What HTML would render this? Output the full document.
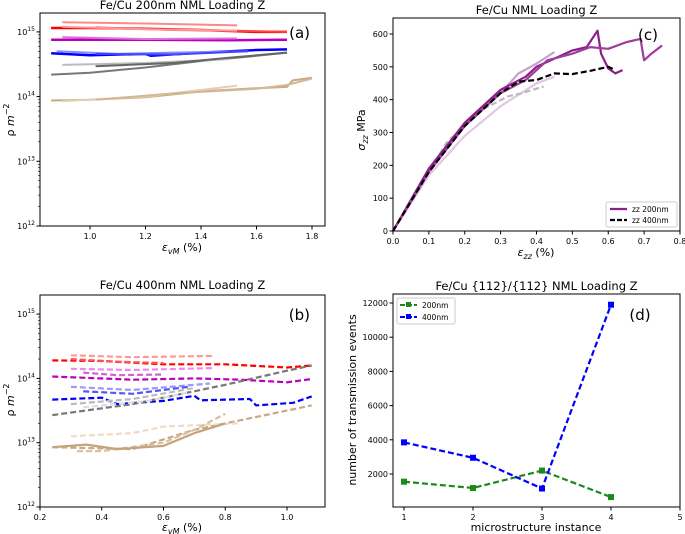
<!DOCTYPE html>
<html><head><meta charset="utf-8"><style>
body{margin:0;background:#fff;}
svg{display:block;font-family:"DejaVu Sans","Liberation Sans",sans-serif;}
</style></head><body>
<svg id="fig" width="685" height="534" viewBox="0 0 685 534" xmlns="http://www.w3.org/2000/svg"></svg>
<script>
// ---------- Panel (a) data: [x, log10 rho] ----------
const aSeries = [
 {c:'#f88',w:2,pts:[[0.9,15.15],[1.2,15.13],[1.53,15.1]]},
 {c:'#f00',w:2.5,pts:[[0.86,15.06],[1.0,15.06],[1.2,15.05],[1.4,15.03],[1.6,15.0],[1.71,15.0]]},
 {c:'#f44',w:2,pts:[[1.02,15.07],[1.3,15.03],[1.5,15.02],[1.71,15.0]]},
 {c:'#f99',w:2,pts:[[0.9,15.08],[1.2,15.04],[1.53,15.02]]},
 {c:'#b0b',w:2.5,pts:[[0.86,14.88],[1.2,14.88],[1.5,14.87],[1.71,14.88]]},
 {c:'#d7d',w:2,pts:[[0.9,14.92],[1.2,14.89],[1.53,14.9]]},
 {c:'#00f',w:2.5,pts:[[0.86,14.67],[1.0,14.64],[1.2,14.66],[1.22,14.63],[1.4,14.68],[1.6,14.72],[1.71,14.73]]},
 {c:'#88f',w:2,pts:[[0.88,14.7],[1.1,14.66],[1.3,14.68],[1.57,14.7]]},
 {c:'#44f',w:2,pts:[[1.02,14.66],[1.3,14.65],[1.57,14.7]]},
 {c:'#777',w:2,pts:[[0.86,14.34],[1.0,14.37],[1.2,14.45],[1.4,14.55],[1.6,14.63],[1.71,14.68]]},
 {c:'#bbb',w:2,pts:[[0.9,14.49],[1.2,14.52],[1.5,14.58]]},
 {c:'#666',w:2,pts:[[1.02,14.47],[1.3,14.52],[1.5,14.6],[1.71,14.68]]},
 {c:'#c9a882',w:2,pts:[[0.86,13.94],[1.0,13.95],[1.2,13.99],[1.4,14.08],[1.6,14.13],[1.71,14.15],[1.73,14.25],[1.8,14.29]]},
 {c:'#e3cfb5',w:2,pts:[[0.9,13.93],[1.2,14.0],[1.53,14.17]]},
 {c:'#d4b896',w:2,pts:[[1.02,13.95],[1.3,14.05],[1.6,14.12],[1.71,14.18],[1.8,14.28]]}
];
// ---------- Panel (b) data ----------
const bSeries = [
 {c:'#f99',d:1,pts:[[0.3,14.36],[0.5,14.33],[0.76,14.35]]},
 {c:'#f00',d:1,pts:[[0.24,14.28],[0.4,14.27],[0.6,14.22],[0.8,14.22],[1.0,14.17],[1.08,14.2]]},
 {c:'#f55',d:1,pts:[[0.3,14.3],[0.45,14.26],[0.6,14.24]]},
 {c:'#e8e',d:1,pts:[[0.3,14.15],[0.5,14.13],[0.76,14.16]]},
 {c:'#c6c',d:1,pts:[[0.34,14.09],[0.45,14.05],[0.6,14.06]]},
 {c:'#b0b',d:1,pts:[[0.24,14.03],[0.5,13.98],[0.7,14.0],[0.85,13.98],[1.0,13.94],[1.08,13.99]]},
 {c:'#99f',d:1,pts:[[0.3,13.87],[0.5,13.82],[0.75,13.92]]},
 {c:'#55f',d:1,pts:[[0.34,13.8],[0.5,13.76],[0.68,13.87]]},
 {c:'#00f',d:1,pts:[[0.24,13.67],[0.4,13.7],[0.45,13.6],[0.6,13.65],[0.7,13.73],[0.72,13.66],[0.88,13.68],[0.9,13.58],[1.02,13.62],[1.08,13.72]]},
 {c:'#777',d:1,pts:[[0.24,13.43],[0.5,13.6],[0.8,13.9],[1.0,14.12],[1.08,14.2]]},
 {c:'#bbb',d:1,pts:[[0.3,13.6],[0.5,13.68],[0.7,13.85]]},
 {c:'#ddd',d:1,pts:[[0.34,13.55],[0.55,13.65],[0.68,13.78]]},
 {c:'#c9a882',d:1,pts:[[0.24,12.93],[0.5,12.9],[0.7,13.2],[0.85,13.35],[1.08,13.58]]},
 {c:'#eedcc8',d:1,pts:[[0.3,13.1],[0.5,13.15],[0.6,13.25],[0.84,13.3]]},
 {c:'#d9c0a0',d:1,pts:[[0.32,12.87],[0.4,12.87],[0.6,13.0],[0.7,13.2],[0.8,13.45]]},
 {c:'#c4a27c',d:0,pts:[[0.24,12.93],[0.35,12.97],[0.45,12.9],[0.6,12.95],[0.7,13.15],[0.8,13.3]]}
];
// ---------- Panel (c) data: [strain %, stress MPa] ----------
const cSeries = [
 {c:'#e5c5e5',d:0,pts:[[0,0],[0.1,170],[0.2,290],[0.3,380],[0.4,450],[0.45,470]]},
 {c:'#c9a0c9',d:0,pts:[[0,0],[0.1,185],[0.2,320],[0.25,375],[0.3,420],[0.35,480],[0.4,510],[0.45,545]]},
 {c:'#bbb',d:1,pts:[[0,0],[0.15,270],[0.25,370],[0.32,410],[0.36,420],[0.42,440]]},
 {c:'#8b1e8b',d:0,pts:[[0,0],[0.1,190],[0.2,330],[0.3,430],[0.37,470],[0.4,500],[0.45,525],[0.5,550],[0.54,560],[0.57,610],[0.58,540],[0.6,495],[0.62,480],[0.64,490]]},
 {c:'#9c3f9c',d:0,pts:[[0,0],[0.1,180],[0.2,320],[0.3,420],[0.37,460],[0.43,520],[0.5,540],[0.55,560],[0.6,555],[0.65,575],[0.69,585],[0.7,520],[0.72,540],[0.75,565]]},
 {c:'#000',d:1,pts:[[0,0],[0.1,180],[0.2,320],[0.3,420],[0.35,455],[0.4,460],[0.45,480],[0.5,478],[0.55,488],[0.6,500],[0.62,490]]}
];
// ---------- Panel (d) data ----------
const dInstances = [1,2,3,4];
const d200 = [1550,1180,2200,650];
const d400 = [3850,2950,1150,11900];
const dTicksY = [2000,4000,6000,8000,10000,12000];
const dTicksX = [1,2,3,4,5];

const svg=document.getElementById('fig');
const NS='http://www.w3.org/2000/svg';
function el(tag,attrs,parent){const e=document.createElementNS(NS,tag);for(const k in attrs)e.setAttribute(k,attrs[k]);(parent||svg).appendChild(e);return e;}
function txt(s,x,y,size,anchor,parent,extra){const t=el('text',Object.assign({x:x,y:y,'font-size':size,'text-anchor':anchor||'middle',fill:'#000'},extra||{}),parent);t.innerHTML=s;return t;}

function axes(name,L,T,R,B,title,titleY){
  const g=el('g',{});
  
  
  const box=el('rect',{x:L,y:T,width:R-L,height:B-T,fill:'none',stroke:'#000','stroke-width':1},g);
  
  
  const tt=txt(title,(L+R)/2,titleY,11.5,'middle',g);
  
  
  return g;
}
function poly(g,pts,X,Y,c,w,dash,name){
  const p=el('polyline',{points:pts.map(q=>X(q[0]).toFixed(1)+','+Y(q[1]).toFixed(1)).join(' '),fill:'none',stroke:c,'stroke-width':w,'stroke-dasharray':dash?'6,3':'none','stroke-linejoin':'round'},g);
  
  
  return p;
}
function logAxis(g,L,B,Y,lo,hi){
  for(let d=lo;d<=hi;d++){
    const y=Y(d);
    el('line',{x1:L-3.5,x2:L,y1:y,y2:y,stroke:'#000'},g);
    const t=txt('10<tspan dy="-4" font-size="6">'+d+'</tspan>',L-5,y+3,8,'end',g);
    
    
    for(let m=2;m<10;m++){const lv=d+Math.log10(m);if(lv<=hi+0.3){const ym=Y(lv);el('line',{x1:L-2,x2:L,y1:ym,y2:ym,stroke:'#000','stroke-width':0.6},g);}}
  }
}
function xTicks(g,vals,X,B,fmt){vals.forEach(v=>{const x=X(v);el('line',{x1:x,x2:x,y1:B,y2:B+3.5,stroke:'#000'},g);const t=txt(fmt(v),x,B+13,8,'middle',g);});}

// ----- Panel a -----
(function(){
 const L=40,T=13,R=325,B=226;
 const X=v=>90+(v-1.0)*(312-90)/0.8, Y=v=>226-(v-12)*64.7;
 const g=axes('panel-a-chart',L,T,R,B,'Fe/Cu 200nm NML Loading Z',9);
 aSeries.forEach(s=>poly(g,s.pts,X,Y,s.c,s.w,false,'density-line-200nm'));
 logAxis(g,L,B,Y,12,15);
 xTicks(g,[1.0,1.2,1.4,1.6,1.8],X,B,v=>v.toFixed(1));
 txt('(a)',310,38,15,'end',g);
 txt('ρ <tspan font-style="italic">m</tspan><tspan dy="-5" font-size="8">−2</tspan>',0,0,11,'middle',g,{transform:'translate(14,120) rotate(-90)'});
 txt('<tspan font-style="italic">ε</tspan><tspan dy="3" font-size="8" font-style="italic">vM</tspan><tspan dy="-3"> (%)</tspan>',182,251,11,'middle',g);
})();

// ----- Panel b -----
(function(){
 const L=40,T=295,R=325,B=507;
 const X=v=>40+(v-0.2)*(287-40)/0.8, Y=v=>507-(v-12)*64.3;
 const g=axes('panel-b-chart',L,T,R,B,'Fe/Cu 400nm NML Loading Z',289);
 bSeries.forEach(s=>poly(g,s.pts,X,Y,s.c,2.2,s.d,'density-line-400nm'));
 logAxis(g,L,B,Y,12,15);
 xTicks(g,[0.2,0.4,0.6,0.8,1.0],X,B,v=>v.toFixed(1));
 txt('(b)',310,320,15,'end',g);
 txt('ρ <tspan font-style="italic">m</tspan><tspan dy="-5" font-size="8">−2</tspan>',0,0,11,'middle',g,{transform:'translate(14,400) rotate(-90)'});
 txt('<tspan font-style="italic">ε</tspan><tspan dy="3" font-size="8" font-style="italic">vM</tspan><tspan dy="-3"> (%)</tspan>',182,531,11,'middle',g);
})();

// ----- Panel c -----
(function(){
 const L=393,T=18,R=680,B=231;
 const X=v=>393+v*(680-393)/0.8, Y=v=>231-v*197/600;
 const g=axes('panel-c-chart',L,T,R,B,'Fe/Cu NML Loading Z',14);
 cSeries.forEach(s=>poly(g,s.pts,X,Y,s.c,2.2,s.d,'stress-strain-curve'));
 [0,100,200,300,400,500,600].forEach(v=>{const y=Y(v);el('line',{x1:L-3.5,x2:L,y1:y,y2:y,stroke:'#000'},g);const t=txt(v,L-5,y+3,8,'end',g);});
 xTicks(g,[0,0.1,0.2,0.3,0.4,0.5,0.6,0.7,0.8],X,B,v=>v.toFixed(1));
 txt('(c)',648,40,15,'middle',g);
 txt('<tspan font-style="italic">σ</tspan><tspan dy="3" font-size="8" font-style="italic">zz</tspan><tspan dy="-3"> MPa</tspan>',0,0,11,'middle',g,{transform:'translate(365,130) rotate(-90)'});
 txt('<tspan font-style="italic">ε</tspan><tspan dy="3" font-size="8" font-style="italic">zz</tspan><tspan dy="-3"> (%)</tspan>',536,256,11,'middle',g);
 const lg=el('g',{},g);
 el('rect',{x:606,y:202,width:71,height:25,fill:'#fff',stroke:'#ccc',rx:2},lg);
 el('line',{x1:610,x2:627,y1:209,y2:209,stroke:'#8b1e8b','stroke-width':2.2},lg);
 el('line',{x1:610,x2:627,y1:220,y2:220,stroke:'#000','stroke-width':2.2,'stroke-dasharray':'5,2'},lg);
 txt('zz 200nm',632,212,7.5,'start',lg);
 txt('zz 400nm',632,223,7.5,'start',lg);
})();

// ----- Panel d -----
(function(){
 const L=393,T=294,R=680,B=507;
 const X=v=>404+(v-1)*(680-404)/4, Y=v=>474-(v-2000)*171/10000;
 const g=axes('panel-d-chart',L,T,R,B,'Fe/Cu {112}/{112} NML Loading Z',290);
 [[d200,'#1a8a1a','series-200nm'],[d400,'#00f','series-400nm']].forEach(([arr,c,n])=>{
   const pts=dInstances.map((x,i)=>[x,arr[i]]);
   poly(g,pts,X,Y,c,2.2,true,n+'-line');
   pts.forEach(p=>{const r=el('rect',{x:X(p[0])-3,y:Y(p[1])-3,width:6,height:6,fill:c},g);});
 });
 dTicksY.forEach(v=>{const y=Y(v);el('line',{x1:L-3.5,x2:L,y1:y,y2:y,stroke:'#000'},g);const t=txt(v,L-5,y+3,8,'end',g);});
 xTicks(g,dTicksX,X,B,v=>v);
 txt('(d)',640,320,15,'middle',g);
 txt('number of transmission events',0,0,11,'middle',g,{transform:'translate(356,400) rotate(-90)'});
 txt('microstructure instance',536,531,11,'middle',g);
 const lg=el('g',{},g);
 el('rect',{x:397,y:298,width:58,height:26,fill:'#fff',stroke:'#ccc',rx:2},lg);
 el('line',{x1:400,x2:417,y1:305,y2:305,stroke:'#1a8a1a','stroke-width':2,'stroke-dasharray':'5,2'},lg);
 el('rect',{x:406,y:302,width:5,height:5,fill:'#1a8a1a'},lg);
 el('line',{x1:400,x2:417,y1:317,y2:317,stroke:'#00f','stroke-width':2,'stroke-dasharray':'5,2'},lg);
 el('rect',{x:406,y:314,width:5,height:5,fill:'#00f'},lg);
 txt('200nm',422,308,7.5,'start',lg);
 txt('400nm',422,320,7.5,'start',lg);
})();
</script>
</body></html>
